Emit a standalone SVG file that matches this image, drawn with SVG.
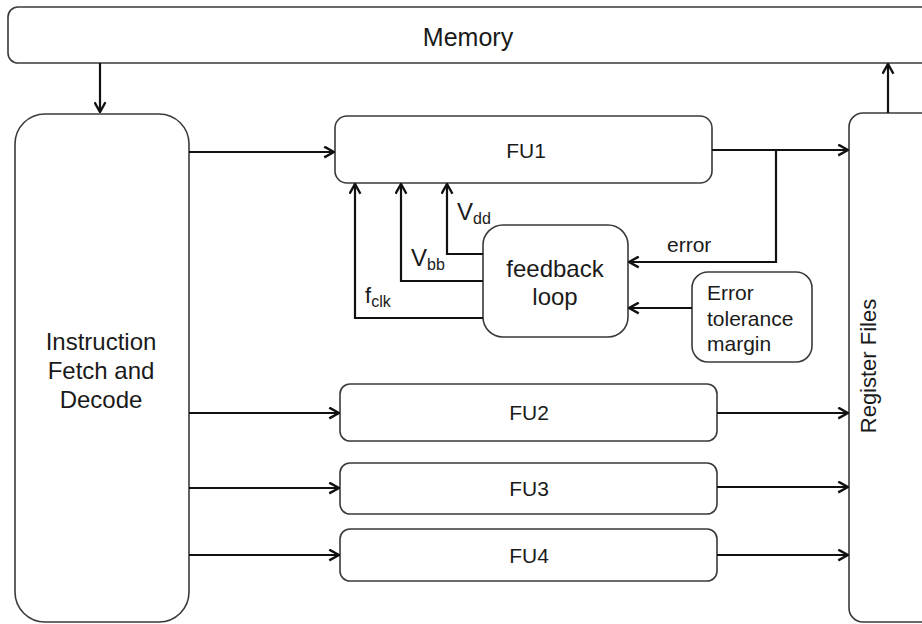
<svg xmlns="http://www.w3.org/2000/svg" width="922" height="624" viewBox="0 0 922 624">
<style>
.box{fill:#fff;stroke:#3a3a3a;stroke-width:1.6}
.ln{fill:none;stroke:#111;stroke-width:2.2}
.t{font-family:"Liberation Sans",Arial,sans-serif;fill:#1a1a1a;text-anchor:middle}
.tl{font-family:"Liberation Sans",Arial,sans-serif;fill:#1a1a1a}
</style>
<defs>
<marker id="arr" viewBox="0 0 12 12" refX="11" refY="6" markerWidth="13" markerHeight="13" markerUnits="userSpaceOnUse" orient="auto">
<path d="M2,1 L11,6 L2,11" fill="none" stroke="#111" stroke-width="2.2"/>
</marker>
</defs>
<rect width="922" height="624" fill="#fff"/>
<g id="memory"><rect class="box" x="8" y="7" width="940" height="56" rx="10"/><text class="t" x="468" y="46" font-size="25">Memory</text></g>
<g id="ifd"><rect class="box" x="15" y="114" width="174" height="508" rx="30"/>
<text class="t" x="101" y="350" font-size="24">Instruction</text>
<text class="t" x="101" y="379" font-size="24">Fetch and</text>
<text class="t" x="101" y="408" font-size="24">Decode</text></g>
<g id="fu1"><rect class="box" x="335" y="116" width="377" height="67" rx="12"/><text class="t" x="526" y="158" font-size="21">FU1</text></g>
<g id="fu2"><rect class="box" x="340" y="384" width="377" height="57" rx="10"/><text class="t" x="529" y="420" font-size="21">FU2</text></g>
<g id="fu3"><rect class="box" x="340" y="463" width="377" height="51" rx="10"/><text class="t" x="529" y="496" font-size="21">FU3</text></g>
<g id="fu4"><rect class="box" x="340" y="529" width="377" height="52" rx="10"/><text class="t" x="529" y="563" font-size="21">FU4</text></g>
<g id="feedback"><rect class="box" x="483" y="225" width="145" height="112" rx="20"/>
<text class="t" x="555" y="277" font-size="24">feedback</text>
<text class="t" x="555" y="305" font-size="24">loop</text></g>
<g id="etm"><rect class="box" x="692" y="272" width="120" height="90" rx="16"/>
<text class="tl" x="707" y="300" font-size="21">Error</text>
<text class="tl" x="707" y="326" font-size="21">tolerance</text>
<text class="tl" x="707" y="351" font-size="21">margin</text></g>
<g id="rf"><rect class="box" x="849" y="113" width="100" height="509" rx="14"/>
<text class="t" x="0" y="0" font-size="22" transform="translate(876,366) rotate(-90)">Register Files</text></g>
<g id="connectors">
<path class="ln" d="M100,63 V112" marker-end="url(#arr)"/>
<path class="ln" d="M888,113 V64" marker-end="url(#arr)"/>
<path class="ln" d="M189,152 H334" marker-end="url(#arr)"/>
<path class="ln" d="M189,413 H339" marker-end="url(#arr)"/>
<path class="ln" d="M189,488 H339" marker-end="url(#arr)"/>
<path class="ln" d="M189,555 H339" marker-end="url(#arr)"/>
<path class="ln" d="M712,150 H848" marker-end="url(#arr)"/>
<path class="ln" d="M717,413 H848" marker-end="url(#arr)"/>
<path class="ln" d="M717,487 H848" marker-end="url(#arr)"/>
<path class="ln" d="M717,555 H848" marker-end="url(#arr)"/>
<path class="ln" d="M776,150 V262 H629" marker-end="url(#arr)"/>
<path class="ln" d="M692,308 H629" marker-end="url(#arr)"/>
<path class="ln" d="M483,254 H447 V184" marker-end="url(#arr)"/>
<path class="ln" d="M483,281 H401 V184" marker-end="url(#arr)"/>
<path class="ln" d="M483,318 H355 V184" marker-end="url(#arr)"/>
<text class="tl" x="667" y="252" font-size="21">error</text>
<text class="tl" x="457" y="220" font-size="24">V<tspan font-size="16" dy="4">dd</tspan></text>
<text class="tl" x="411" y="266" font-size="24">V<tspan font-size="16" dy="4">bb</tspan></text>
<text class="tl" x="365" y="303" font-size="22">f<tspan font-size="16" dy="4">clk</tspan></text>
</g>
</svg>
